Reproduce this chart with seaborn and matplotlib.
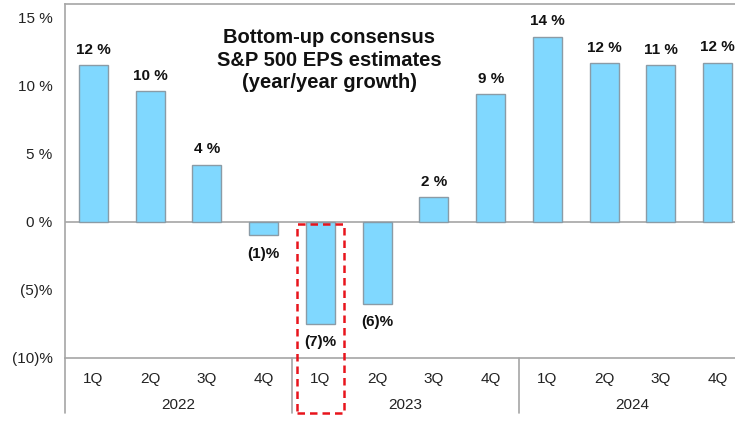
import matplotlib
matplotlib.use("Agg")
import matplotlib.pyplot as plt
import matplotlib.transforms as mtransforms
from matplotlib.patches import Rectangle
import seaborn as sns
import pandas as pd

# ---- data ----
quarters = ["1Q", "2Q", "3Q", "4Q"] * 3
years = ["2022", "2023", "2024"]
growth = [11.5, 9.6, 4.2, -1.0, -7.5, -6.0, 1.8, 9.4, 13.6, 11.65, 11.5, 11.7]
value_labels = ["12 %", "10 %", "4 %", "(1)%", "(7)%", "(6)%", "2 %", "9 %",
                "14 %", "12 %", "11 %", "12 %"]
ytick_values = [15, 10, 5, 0, -5, -10]
ytick_labels = ["15 %", "10 %", "5 %", "0 %", "(5)%", "(10)%"]
title_text = "Bottom-up consensus\nS&P 500 EPS estimates\n(year/year growth)"

sns.set_theme(style="white")
plt.rcParams["font.family"] = ["Liberation Sans", "DejaVu Sans"]

slots = [f"{q}{y}" for y in years for q in ["1Q", "2Q", "3Q", "4Q"]]
df = pd.DataFrame({"slot": slots, "growth": growth})

fig = plt.figure(figsize=(7.35, 4.37), dpi=100)
ax = fig.add_axes([65 / 735, 79 / 437, 681 / 735, 354 / 437])

gray = "#a6a6a6"
sns.barplot(data=df, x="slot", y="growth", color="#80D8FF", saturation=1,
            width=0.51, edgecolor="#8a9ba6", linewidth=1.0, ax=ax)

ax.set_ylim(-10, 16)
ax.set_xlim(-0.5, 11.5)
ax.set_xlabel("")
ax.set_ylabel("")
ax.set_yticks(ytick_values)
ax.set_yticklabels(ytick_labels, fontsize=11, color="#222222")
ax.set_xticks(range(12))
ax.set_xticklabels(quarters, fontsize=11, color="#222222")
ax.tick_params(axis="y", length=0, pad=9)
ax.tick_params(axis="x", length=0, pad=10)

for side in ["left", "top", "bottom"]:
    ax.spines[side].set_color(gray)
    ax.spines[side].set_linewidth(1.2)
ax.spines["right"].set_visible(False)
ax.axhline(0, color=gray, lw=1.2, zorder=0)

# extension lines below axis
blend = mtransforms.blended_transform_factory(ax.transData, ax.transAxes)
ext = -(413 - 358) / 354
for xs in [-0.5, 3.5, 7.5]:
    ax.plot([xs, xs], [0, ext], transform=blend, color=gray, lw=1.2, clip_on=False)

# year labels
for i, yr in enumerate(years):
    ax.text(i * 4 + 1.5, -(405 - 358) / 354, yr, transform=blend, ha="center",
            va="center", fontsize=11, color="#222222")

# value labels
for i, (v, lab) in enumerate(zip(growth, value_labels)):
    if v >= 0:
        ax.annotate(lab, (i, v), xytext=(0, 6), textcoords="offset points",
                    ha="center", va="bottom", fontsize=11, fontweight="bold",
                    color="#111111")
    else:
        ax.annotate(lab, (i, v), xytext=(0, -8), textcoords="offset points",
                    ha="center", va="top", fontsize=11, fontweight="bold",
                    color="#111111")

# red dashed highlight
ylow = -10 + ext * 26
rect = Rectangle((3.59, ylow), 0.83, -0.15 - ylow, fill=False, edgecolor="#e8141c",
                 lw=1.8, linestyle=(0, (3, 2)), clip_on=False, zorder=5)
ax.add_patch(rect)

# title
fig.text(329 / 735, 1 - 60 / 437, title_text, ha="center", va="center",
         fontsize=14.5, fontweight="bold", color="#111111", linespacing=1.25)

fig.savefig("out.png", dpi=100)
